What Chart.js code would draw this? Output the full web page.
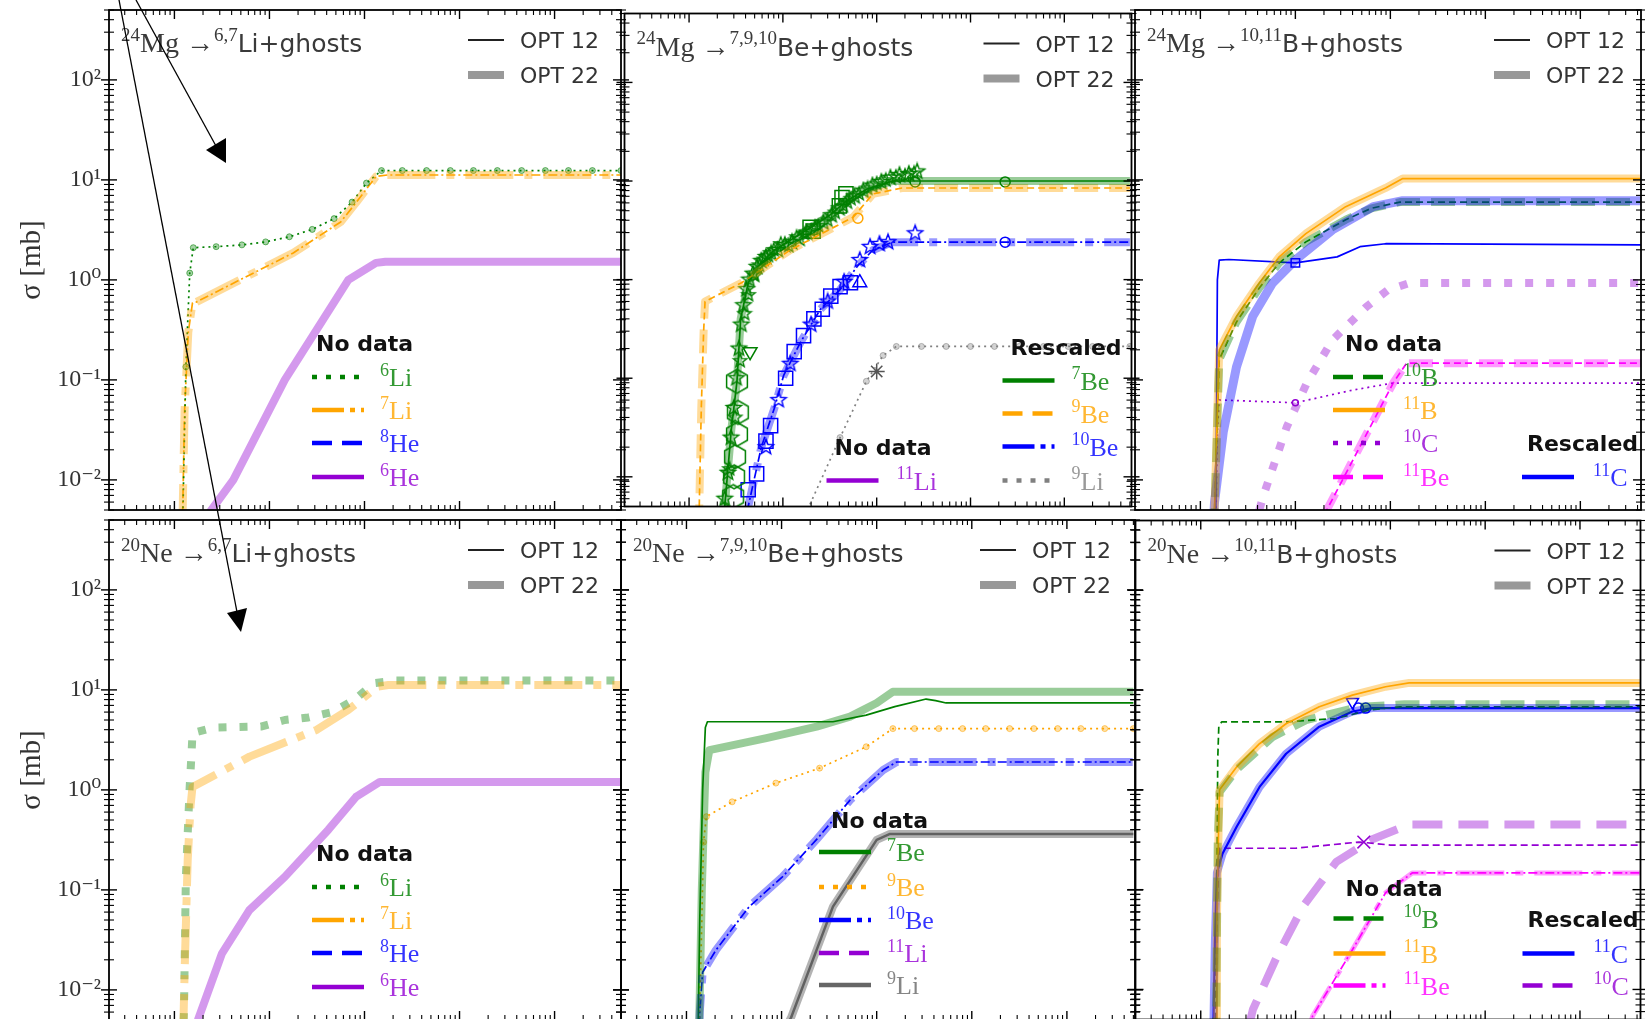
<!DOCTYPE html>
<html>
<head>
<meta charset="utf-8">
<script src="https://cdn.jsdelivr.net/npm/chart.js@4.4.0/dist/chart.umd.min.js"></script>
<style>
  body { margin: 0; background: #fff; }
  #page { position: relative; width: 1645px; height: 1019px; overflow: hidden; background: #fff; }
  canvas.panel { position: absolute; }
  #arrows { position: absolute; left: 0; top: 0; pointer-events: none; }
</style>
</head>
<body>
<div id="page">
  <canvas id="p1" class="panel"></canvas>
  <canvas id="p2" class="panel"></canvas>
  <canvas id="p3" class="panel"></canvas>
  <canvas id="p4" class="panel"></canvas>
  <canvas id="p5" class="panel"></canvas>
  <canvas id="p6" class="panel"></canvas>
  <svg id="arrows" width="1645" height="1019">
    <line x1="136" y1="0" x2="216" y2="146" stroke="#000" stroke-width="1.3"/>
    <polygon points="226,163 206,150 226,138" fill="#000"/>
    <line x1="119" y1="0" x2="237" y2="612" stroke="#000" stroke-width="1.3"/>
    <polygon points="241,632 227,613 247,608" fill="#000"/>
  </svg>
</div>
<script>
// === DATA: energy [GeV/n] and cross sections [mb] ===

// 24Mg -> 6,7Li + ghosts
const mgLi_Li6_E = [0.0121, 0.0123, 0.0132, 0.0145, 0.0158, 0.0275, 0.0513, 0.0912, 0.162, 0.282, 0.479, 0.741, 1.05, 1.51, 2.5, 4.5, 8, 14, 25, 45, 80, 140, 250, 500];
const mgLi_Li6_S = [0.003, 0.005, 0.135, 1.17, 2.1, 2.15, 2.24, 2.4, 2.7, 3.2, 4.1, 6.0, 9.3, 12.4, 12.4, 12.4, 12.4, 12.4, 12.4, 12.4, 12.4, 12.4, 12.4, 12.4];
const mgLi_Li7_E = [0.0121, 0.0128, 0.0140, 0.0155, 0.0170, 0.0562, 0.178, 0.562, 0.813, 1.32, 1.74, 500];
const mgLi_Li7_S = [0.003, 0.05, 0.3, 0.59, 0.60, 1.07, 1.86, 3.8, 5.9, 10.8, 11.2, 11.2];
const mgLi_He6_E = [0.0206, 0.0245, 0.0417, 0.145, 0.676, 1.32, 1.66, 500];
const mgLi_He6_S = [0.004, 0.005, 0.01, 0.1, 1.0, 1.48, 1.52, 1.52];

// 24Mg -> 7,9,10Be + ghosts
const mgBe_Be7_E = [0.0229, 0.024, 0.0282, 0.0324, 0.0355, 0.0427, 0.0562, 0.0813, 0.182, 0.316, 0.479, 0.794, 1.48, 500];
const mgBe_Be7_S = [0.003, 0.005, 0.03, 0.093, 0.4, 0.93, 1.41, 2.0, 3.2, 4.5, 6.3, 8.3, 10, 10];
const mgBe_Be9_E = [0.0127, 0.0135, 0.0143, 0.0148, 0.0363, 0.12, 0.562, 0.912, 1.86, 500];
const mgBe_Be9_S = [0.003, 0.05, 0.3, 0.6, 0.93, 2.0, 4.3, 7.4, 8.5, 8.5];
const mgBe_Be10_E = [0.039, 0.0427, 0.0589, 0.0813, 0.102, 0.155, 0.251, 0.407, 0.617, 0.912, 1.48, 500];
const mgBe_Be10_S = [0.003, 0.005, 0.02, 0.05, 0.107, 0.234, 0.5, 0.79, 1.35, 2.0, 2.4, 2.4];
const mgBe_Li9_E = [0.182, 0.19, 0.407, 0.776, 1.17, 1.62, 3, 5.5, 10, 18, 33, 60, 110, 200, 500];
const mgBe_Li9_S = [0.004, 0.005, 0.025, 0.093, 0.17, 0.21, 0.21, 0.21, 0.21, 0.21, 0.21, 0.21, 0.21, 0.21, 0.21];
// measurements
const mgBe_starG_E = [0.024, 0.026, 0.028, 0.030, 0.032, 0.034, 0.036, 0.038, 0.041, 0.044, 0.048, 0.053, 0.059, 0.066, 0.075, 0.088, 0.105, 0.125, 0.15, 0.18, 0.22, 0.27, 0.33, 0.40, 0.48, 0.58, 0.72, 0.9, 1.12, 1.4, 1.75, 2.2, 2.7];
const mgBe_starG_S = [0.006, 0.011, 0.025, 0.05, 0.1, 0.2, 0.35, 0.55, 0.8, 1.0, 1.15, 1.35, 1.55, 1.7, 1.85, 2.0, 2.25, 2.4, 2.6, 3.0, 3.3, 3.8, 4.5, 5.3, 6.2, 7.0, 8.0, 9.0, 9.8, 10.8, 11.5, 11.8, 12.5];
const mgBe_starG2_E = [0.027, 0.031, 0.035, 0.039, 0.043, 0.05, 0.056, 0.063, 0.07, 0.08, 0.095, 0.115, 0.14, 0.17, 0.2, 0.24, 0.3, 0.36, 0.44, 0.53, 0.65, 0.8, 1.0, 1.25, 1.6, 2.0, 2.5];
const mgBe_starG2_S = [0.012, 0.04, 0.15, 0.45, 0.7, 1.1, 1.4, 1.6, 1.75, 2.0, 2.3, 2.2, 2.7, 2.9, 3.1, 3.5, 4.0, 4.8, 5.6, 6.6, 7.4, 8.4, 9.4, 10.2, 11.0, 11.3, 12.0];
const mgBe_hexG_E = [0.0324, 0.0331, 0.0324, 0.0309, 0.0302, 0.0295];
const mgBe_hexG_S = [0.093, 0.045, 0.027, 0.016, 0.010, 0.0063];
const mgBe_sqG_E = [0.195, 0.21, 0.40, 0.427, 0.47];
const mgBe_sqG_S = [3.4, 3.1, 5.6, 6.8, 7.4];
const mgBe_triG_E = [0.0447];
const mgBe_triG_S = [0.186];
const mgBe_circG_E = [2.57, 23.4];
const mgBe_circG_S = [9.8, 9.8];
const mgBe_sqB_E = [0.0427, 0.0525, 0.066, 0.074, 0.107, 0.132, 0.166, 0.214, 0.263, 0.324, 0.407, 0.525];
const mgBe_sqB_S = [0.0074, 0.0107, 0.023, 0.033, 0.1, 0.186, 0.27, 0.4, 0.5, 0.68, 0.85, 0.93];
const mgBe_starB_E = [0.066, 0.09, 0.12, 0.2, 0.3, 0.45, 0.66, 0.85, 1.07, 1.32, 2.57];
const mgBe_starB_S = [0.02, 0.06, 0.14, 0.35, 0.6, 0.95, 1.58, 2.15, 2.3, 2.4, 2.95];
const mgBe_triB_E = [0.66];
const mgBe_triB_S = [0.93];
const mgBe_circB_E = [23.4];
const mgBe_circB_S = [2.4];
const mgBe_circO_E = [0.63];
const mgBe_circO_S = [4.2];
const mgBe_triK_E = [1.0];
const mgBe_triK_S = [0.117];

// 24Mg -> 10,11B + ghosts
const mgB_B11_E = [0.0138, 0.0141, 0.0151, 0.0158, 0.024, 0.0417, 0.0676, 0.129, 0.339, 0.891, 1.35, 500];
const mgB_B11_S = [0.003, 0.005, 0.05, 0.2, 0.43, 0.93, 1.7, 2.9, 5.4, 8.3, 10.3, 10.3];
const mgB_B10_E = [0.0138, 0.0141, 0.0151, 0.0158, 0.024, 0.0417, 0.0676, 0.129, 0.339, 0.631, 1.26, 500];
const mgB_B10_S = [0.003, 0.005, 0.04, 0.16, 0.38, 0.83, 1.48, 2.4, 4.0, 5.2, 6.0, 6.0];
const mgB_C11_E = [0.0145, 0.0148, 0.0151, 0.0158, 0.02, 0.1, 0.275, 0.479, 0.891, 500];
const mgB_C11_S = [0.003, 0.05, 1.0, 1.58, 1.6, 1.48, 1.7, 2.15, 2.3, 2.24];
const mgB_C11w_E = [0.0135, 0.0141, 0.0174, 0.024, 0.0355, 0.0575, 0.1, 0.245, 0.661, 1.35, 500];
const mgB_C11w_S = [0.003, 0.006, 0.03, 0.135, 0.43, 0.93, 1.58, 3.16, 5.4, 6.2, 6.2];
const mgB_C10_E = [0.0145, 0.0151, 0.0158, 0.1, 0.398, 1.07, 500];
const mgB_C10_S = [0.003, 0.03, 0.063, 0.059, 0.079, 0.093, 0.093];
const mgB_C10w_E = [0.0417, 0.0457, 0.0813, 0.132, 0.245, 0.562, 0.933, 1.58, 500];
const mgB_C10w_S = [0.005, 0.0068, 0.034, 0.093, 0.25, 0.54, 0.79, 0.93, 0.93];
const mgB_Be11_E = [0.2, 0.214, 1.07, 1.48, 500];
const mgB_Be11_S = [0.0045, 0.005, 0.093, 0.147, 0.147];
const mgB_markC11_E = [0.1];
const mgB_markC11_S = [1.48];
const mgB_markC10_E = [0.1];
const mgB_markC10_S = [0.059];

// 20Ne -> 6,7Li + ghosts
const neLi_Li6_E = [0.0123, 0.0126, 0.0132, 0.0145, 0.0151, 0.0155, 0.0263, 0.0813, 0.145, 0.257, 0.457, 0.776, 1.26, 2.14, 500];
const neLi_Li6_S = [0.003, 0.006, 0.135, 1.1, 2.2, 3.7, 4.2, 4.3, 5.0, 5.3, 6.0, 7.9, 11.7, 12.4, 12.4];
const neLi_Li7_E = [0.0123, 0.0129, 0.0138, 0.0148, 0.0155, 0.0617, 0.316, 0.676, 1.38, 1.78, 500];
const neLi_Li7_S = [0.003, 0.02, 0.2, 0.7, 1.07, 2.15, 4.0, 6.3, 10.8, 11.2, 11.2];
const neLi_He6_E = [0.017, 0.0178, 0.0316, 0.0617, 0.145, 0.417, 0.813, 1.45, 500];
const neLi_He6_S = [0.004, 0.0051, 0.023, 0.063, 0.135, 0.4, 0.85, 1.2, 1.2];

// 20Ne -> 7,9,10Be + ghosts
const neBe_Be7_E = [0.0132, 0.0138, 0.0148, 0.0158, 0.0166, 0.0692, 0.347, 0.776, 1.55, 3.31, 4.17, 5.37, 500];
const neBe_Be7_S = [0.003, 0.05, 1.0, 4.2, 4.8, 4.8, 4.8, 5.6, 6.8, 8.1, 7.8, 7.4, 7.4];
const neBe_Be7w_E = [0.0135, 0.0145, 0.0158, 0.0174, 0.0692, 0.234, 0.525, 1.0, 1.48, 500];
const neBe_Be7w_S = [0.003, 0.1, 1.5, 2.5, 3.3, 4.3, 5.4, 7.4, 9.6, 9.6];
const neBe_Be9_E = [0.0135, 0.0145, 0.0151, 0.0162, 0.0302, 0.0871, 0.251, 0.776, 1.48, 2.5, 4.5, 8, 14, 25, 45, 80, 140, 250, 500];
const neBe_Be9_S = [0.003, 0.05, 0.3, 0.54, 0.76, 1.17, 1.65, 2.7, 4.1, 4.1, 4.1, 4.1, 4.1, 4.1, 4.1, 4.1, 4.1, 4.1, 4.1];
const neBe_Be10_E = [0.0135, 0.0138, 0.0148, 0.0204, 0.0457, 0.102, 0.234, 0.525, 1.17, 1.62, 500];
const neBe_Be10_S = [0.003, 0.006, 0.015, 0.025, 0.068, 0.135, 0.32, 0.79, 1.58, 1.9, 1.9];
const neBe_Li9_E = [0.115, 0.126, 0.347, 1.0, 1.38, 500];
const neBe_Li9_S = [0.0045, 0.0053, 0.068, 0.316, 0.363, 0.363];

// 20Ne -> 10,11B + ghosts
const neB_B11_E = [0.0145, 0.0148, 0.0155, 0.0158, 0.024, 0.0417, 0.0794, 0.178, 0.398, 0.891, 1.58, 500];
const neB_B11_S = [0.003, 0.05, 0.5, 1.0, 1.7, 2.9, 4.6, 6.8, 8.9, 10.8, 11.8, 11.8];
const neB_B10_E = [0.0145, 0.0148, 0.0151, 0.0155, 0.0166, 0.0794, 0.269, 0.603, 1.26, 500];
const neB_B10_S = [0.003, 0.1, 2.0, 4.3, 4.8, 4.8, 5.2, 6.3, 6.8, 6.8];
const neB_B10w_E = [0.0145, 0.0151, 0.0158, 0.024, 0.0575, 0.129, 0.468, 1.41, 500];
const neB_B10w_S = [0.003, 0.3, 0.95, 1.6, 3.4, 5.0, 6.8, 7.2, 7.2];
const neB_C11_E = [0.0135, 0.0141, 0.0148, 0.017, 0.024, 0.0417, 0.0794, 0.178, 0.398, 0.646, 500];
const neB_C11_S = [0.003, 0.03, 0.147, 0.23, 0.43, 1.07, 2.3, 4.3, 6.1, 6.6, 6.6];
const neB_C10_E = [0.0141, 0.0148, 0.0155, 0.0158, 0.1, 0.468, 1.0, 500];
const neB_C10_S = [0.003, 0.05, 0.2, 0.26, 0.26, 0.30, 0.28, 0.28];
const neB_C10w_E = [0.0316, 0.0355, 0.0631, 0.12, 0.269, 0.646, 1.58, 500];
const neB_C10w_S = [0.004, 0.0063, 0.021, 0.068, 0.19, 0.32, 0.45, 0.45];
const neB_Be11_E = [0.141, 0.151, 0.398, 0.891, 1.7, 500];
const neB_Be11_S = [0.004, 0.0054, 0.025, 0.093, 0.147, 0.147];
const neB_markTri_E = [0.398];
const neB_markTri_S = [7.6];
const neB_markCirc_E = [0.46, 0.55];
const neB_markCirc_S = [6.6, 6.6];
const neB_markC10_E = [0.525];
const neB_markC10_S = [0.30];

// axis ranges
const X_MIN = 0.00205;
const X_MAX = [500, 520, 435];
const Y_MIN = 0.005, Y_MAX = 500;

// === STYLES ===
const GREEN = '#008000', ORANGE = '#ffa500', BLUE = '#0000ff', VIOLET = '#9400d3', MAGENTA = '#ff00ff', GRAY = '#808080';
const FONT_RM = '"Liberation Serif", "DejaVu Serif", serif';
const FONT_SF = '"DejaVu Sans", sans-serif';

function fade(hex, a) {
  const n = parseInt(hex.slice(1), 16);
  return `rgba(${n >> 16},${(n >> 8) & 255},${n & 255},${a})`;
}

const DOT = [2, 4], DASH = [7, 4], DASHDOT = [9, 3, 2, 3];
const W_DOT = [8, 13], W_DASH = [24, 11], W_DASHDOT = [48, 11, 8, 11];

function pts(E, S) { return E.map((e, i) => ({ x: e, y: S[i] })); }

function thin(E, S, color, dash, extra) {
  return Object.assign({
    data: pts(E, S), showLine: true, borderColor: color, backgroundColor: color,
    borderWidth: 1.7, borderDash: dash || [], pointRadius: 0, tension: 0, clip: 0,
    borderCapStyle: 'butt', borderJoinStyle: 'round'
  }, extra || {});
}
function thick(E, S, color, dash, extra) {
  return Object.assign({
    data: pts(E, S), showLine: true, borderColor: fade(color, 0.4), backgroundColor: fade(color, 0.4),
    borderWidth: 8, borderDash: dash || [], pointRadius: 0, tension: 0, clip: 0,
    borderCapStyle: 'butt', borderJoinStyle: 'round'
  }, extra || {});
}
function withDots(color) {
  return { pointRadius: (c) => (c.dataIndex < 2 ? 0 : 3), pointBackgroundColor: fade(color, 0.35), pointBorderColor: fade(color, 0.55), pointBorderWidth: 1 };
}
function marks(E, S, color, style, r, rot) {
  return {
    data: pts(E, S), showLine: false, pointStyle: style, pointRadius: r, pointRotation: rot || 0,
    pointBorderColor: color, pointBackgroundColor: 'rgba(0,0,0,0)', pointBorderWidth: 1.5, clip: 0
  };
}

// custom marker shapes
function hexImg(color, r) {
  const c = document.createElement('canvas');
  c.width = c.height = 2 * r + 4;
  const g = c.getContext('2d');
  g.strokeStyle = color; g.lineWidth = 1.5; g.beginPath();
  for (let i = 0; i < 6; i++) {
    const a = -Math.PI / 2 + i * Math.PI / 3;
    g.lineTo(r + 2 + r * Math.cos(a), r + 2 + r * Math.sin(a));
  }
  g.closePath(); g.stroke();
  return c;
}
function starImg(color, r) {
  const c = document.createElement('canvas');
  c.width = c.height = 2 * r + 4;
  const g = c.getContext('2d');
  g.strokeStyle = color; g.lineWidth = 1.4; g.beginPath();
  for (let i = 0; i < 10; i++) {
    const a = -Math.PI / 2 + i * Math.PI / 5;
    const rr = i % 2 ? r * 0.42 : r;
    g.lineTo(r + 2 + rr * Math.cos(a), r + 2 + rr * Math.sin(a));
  }
  g.closePath(); g.stroke();
  return c;
}

// === TEXT HELPERS ===
function rich(ctx, parts, x, y, size, color) {
  ctx.fillStyle = color; ctx.textBaseline = 'alphabetic'; ctx.textAlign = 'left';
  let cx = x;
  for (const [t, k] of parts) {
    let fs = size, dy = 0, fam = FONT_RM;
    if (k === 'sup') { fs = Math.round(size * 0.68); dy = -size * 0.4; }
    if (k === 'sf') { fam = FONT_SF; fs = Math.round(size * 0.9); }
    ctx.font = `${fs}px ${fam}`;
    ctx.fillText(t, cx, y + dy);
    cx += ctx.measureText(t).width;
  }
  return cx - x;
}

const SUP = { '-': '⁻', '0': '⁰', '1': '¹', '2': '²', '3': '³' };
function decadeLabel(v) {
  const l = Math.log10(v), r = Math.round(l);
  if (Math.abs(l - r) > 1e-6) return '';
  return '10' + String(r).split('').map(c => SUP[c]).join('');
}

const LEG_DASH = { solid: [], dot: [5, 9], dash: [20, 10], dashdot: [32, 6, 5, 6] };

// === PLUGIN: frame, ticks, titles and legends ===
function decorPlugin(d) {
  return {
    id: 'decor',
    afterDatasetsDraw(chart) {
      const ctx = chart.ctx, a = chart.chartArea, xs = chart.scales.x, ys = chart.scales.y;
      ctx.save();
      ctx.strokeStyle = '#000';
      const seg = (x1, y1, x2, y2) => { ctx.beginPath(); ctx.moveTo(x1, y1); ctx.lineTo(x2, y2); ctx.stroke(); };
      for (let k = -4; k <= 3; k++) {
        for (let m = 1; m <= 9; m++) {
          const v = m * Math.pow(10, k);
          ctx.lineWidth = m === 1 ? 1.4 : 1.1;
          if (v >= ys.min && v <= ys.max) {
            const py = ys.getPixelForValue(v), L = m === 1 ? 8 : 5;
            seg(a.left - L, py, a.left + L, py);
            seg(a.right - L, py, a.right + L, py);
          }
          if (v >= xs.min && v <= xs.max) {
            const px = xs.getPixelForValue(v), L = m === 1 ? 9 : 5;
            seg(px, a.top, px, a.top + L);
            seg(px, a.bottom - L, px, a.bottom);
          }
        }
      }
      ctx.lineWidth = 1.8;
      ctx.strokeRect(a.left, a.top, a.right - a.left, a.bottom - a.top);

      const X = (v) => a.left + v, Y = (v) => a.top + v;
      // panel title
      rich(ctx, d.title, X(12), Y(42), 28, '#3a3a3a');
      // OPT legend
      ctx.setLineDash([]);
      ctx.lineWidth = 2; ctx.strokeStyle = '#222';
      seg(X(359), Y(30), X(395), Y(30));
      ctx.lineWidth = 8; ctx.strokeStyle = 'rgba(0,0,0,0.4)';
      seg(X(359), Y(65), X(395), Y(65));
      ctx.fillStyle = '#333'; ctx.font = `22px ${FONT_SF}`; ctx.textAlign = 'left'; ctx.textBaseline = 'alphabetic';
      ctx.fillText('OPT 12', X(411), Y(38));
      ctx.fillText('OPT 22', X(411), Y(73));
      // grouped legends
      for (const g of d.groups) {
        ctx.fillStyle = '#111'; ctx.font = `bold 22px ${FONT_SF}`;
        ctx.fillText(g.head, X(g.tx), Y(g.ty + 8));
        for (const it of g.items) {
          ctx.setLineDash(LEG_DASH[it.style]);
          ctx.lineWidth = 4.5; ctx.strokeStyle = it.color; ctx.lineCap = 'butt';
          seg(X(g.hx), Y(it.y), X(g.hx + 52), Y(it.y));
          ctx.setLineDash([]);
          rich(ctx, [[it.sup, 'sup'], [it.el, 'rm']], X(g.lx), Y(it.y + 9), 26, fade(it.color, 0.8));
        }
      }
      ctx.restore();
    }
  };
}

// === CHART FACTORY ===
function makePanel(id, g, showY, xMax, datasets, decor) {
  const P = 10;
  const cv = document.getElementById(id);
  const left = showY ? 0 : g.left - P;
  cv.width = showY ? g.left + g.w + P : g.w + 2 * P;
  cv.height = g.h + 2 * P;
  cv.style.left = left + 'px';
  cv.style.top = (g.top - P) + 'px';
  const yAxis = {
    type: 'logarithmic', min: Y_MIN, max: Y_MAX, display: showY, position: 'left',
    grid: { display: false, drawTicks: false }, border: { display: false },
    ticks: { autoSkip: false, padding: 8, color: '#333', font: { family: FONT_RM, size: 24 }, callback: (v) => decadeLabel(v) },
    title: { display: true, text: 'σ [mb]', color: '#333', font: { family: FONT_RM, size: 29 }, padding: { top: 15, bottom: 0 } }
  };
  if (showY) {
    yAxis.afterFit = (s) => { s.width = g.left; s.paddingTop = 0; s.paddingBottom = 0; };
  }
  return new Chart(cv, {
    type: 'scatter',
    data: { datasets },
    options: {
      responsive: false, animation: false, devicePixelRatio: 1,
      layout: { padding: { left: showY ? 0 : P, right: P, top: P, bottom: P } },
      plugins: { legend: { display: false }, tooltip: { enabled: false } },
      scales: {
        x: { type: 'logarithmic', min: X_MIN, max: xMax, display: false },
        y: yAxis
      }
    },
    plugins: [decorPlugin(decor)]
  });
}

const GEOM = [
  { left: 109, top: 10, w: 512, h: 500 }, { left: 621, top: 10, w: 514, h: 500 }, { left: 1135, top: 10, w: 506, h: 500 },
  { left: 109, top: 520, w: 512, h: 500 }, { left: 621, top: 520, w: 514, h: 500 }, { left: 1135, top: 520, w: 506, h: 500 }
];

const ROWS4 = [367, 400, 433, 467];

// --- 24Mg -> 6,7Li ---
makePanel('p1', GEOM[0], true, X_MAX[0], [
  thick(mgLi_Li7_E, mgLi_Li7_S, ORANGE, W_DASHDOT),
  thick(mgLi_He6_E, mgLi_He6_S, VIOLET),
  thin(mgLi_Li6_E, mgLi_Li6_S, GREEN, DOT, withDots(GREEN)),
  thin(mgLi_Li7_E, mgLi_Li7_S, ORANGE, DASHDOT)
], {
  title: [['24', 'sup'], ['Mg', 'rm'], [' →', 'rm'], ['6,7', 'sup'], ['Li+ghosts', 'sf']],
  groups: [{ head: 'No data', tx: 207, ty: 333, hx: 203, lx: 271, items: [
    { sup: '6', el: 'Li', color: GREEN, style: 'dot', y: ROWS4[0] },
    { sup: '7', el: 'Li', color: ORANGE, style: 'dashdot', y: ROWS4[1] },
    { sup: '8', el: 'He', color: BLUE, style: 'dash', y: ROWS4[2] },
    { sup: '6', el: 'He', color: VIOLET, style: 'solid', y: ROWS4[3] }
  ] }]
});

// --- 24Mg -> 7,9,10Be ---
makePanel('p2', GEOM[1], false, X_MAX[1], [
  thick(mgBe_Be7_E, mgBe_Be7_S, GREEN),
  thick(mgBe_Be9_E, mgBe_Be9_S, ORANGE, W_DASH),
  thick(mgBe_Be10_E, mgBe_Be10_S, BLUE, W_DASHDOT),
  thin(mgBe_Li9_E, mgBe_Li9_S, GRAY, DOT, withDots(GRAY)),
  thin(mgBe_Be9_E, mgBe_Be9_S, ORANGE, DASH),
  thin(mgBe_Be10_E, mgBe_Be10_S, BLUE, DASHDOT),
  thin(mgBe_Be7_E, mgBe_Be7_S, GREEN),
  marks(mgBe_hexG_E, mgBe_hexG_S, GREEN, hexImg(GREEN, 12), 12),
  marks(mgBe_starG_E, mgBe_starG_S, GREEN, starImg(GREEN, 8), 8),
  marks(mgBe_starG2_E, mgBe_starG2_S, GREEN, starImg(GREEN, 7), 7),
  marks(mgBe_sqG_E, mgBe_sqG_S, GREEN, 'rect', 10),
  marks(mgBe_triG_E, mgBe_triG_S, GREEN, 'triangle', 8, 180),
  marks(mgBe_circG_E, mgBe_circG_S, GREEN, 'circle', 5),
  marks(mgBe_sqB_E, mgBe_sqB_S, BLUE, 'rect', 10),
  marks(mgBe_starB_E, mgBe_starB_S, BLUE, starImg(BLUE, 8), 8),
  marks(mgBe_triB_E, mgBe_triB_S, BLUE, 'triangle', 8),
  marks(mgBe_circB_E, mgBe_circB_S, BLUE, 'circle', 5),
  marks(mgBe_circO_E, mgBe_circO_S, ORANGE, 'circle', 5),
  marks(mgBe_triK_E, mgBe_triK_S, '#555', 'star', 8)
], {
  title: [['24', 'sup'], ['Mg', 'rm'], [' →', 'rm'], ['7,9,10', 'sup'], ['Be+ghosts', 'sf']],
  groups: [
    { head: 'Rescaled', tx: 386, ty: 333, hx: 378, lx: 447, items: [
      { sup: '7', el: 'Be', color: GREEN, style: 'solid', y: ROWS4[0] },
      { sup: '9', el: 'Be', color: ORANGE, style: 'dash', y: ROWS4[1] },
      { sup: '10', el: 'Be', color: BLUE, style: 'dashdot', y: ROWS4[2] },
      { sup: '9', el: 'Li', color: GRAY, style: 'dot', y: ROWS4[3] }
    ] },
    { head: 'No data', tx: 210, ty: 433, hx: 202, lx: 272, items: [
      { sup: '11', el: 'Li', color: VIOLET, style: 'solid', y: ROWS4[3] }
    ] }
  ]
});

// --- 24Mg -> 10,11B ---
makePanel('p3', GEOM[2], false, X_MAX[2], [
  thick(mgB_B11_E, mgB_B11_S, ORANGE),
  thick(mgB_C11w_E, mgB_C11w_S, BLUE, [], { borderWidth: 9 }),
  thick(mgB_B10_E, mgB_B10_S, GREEN, W_DASH),
  thick(mgB_C10w_E, mgB_C10w_S, VIOLET, W_DOT),
  thick(mgB_Be11_E, mgB_Be11_S, MAGENTA, W_DASH),
  thin(mgB_B11_E, mgB_B11_S, ORANGE),
  thin(mgB_B10_E, mgB_B10_S, GREEN, DASH),
  thin(mgB_C11_E, mgB_C11_S, BLUE),
  thin(mgB_C10_E, mgB_C10_S, VIOLET, DOT),
  thin(mgB_Be11_E, mgB_Be11_S, MAGENTA, DASH),
  marks(mgB_markC11_E, mgB_markC11_S, BLUE, 'rect', 6),
  marks(mgB_markC10_E, mgB_markC10_S, VIOLET, 'circle', 3)
], {
  title: [['24', 'sup'], ['Mg', 'rm'], [' →', 'rm'], ['10,11', 'sup'], ['B+ghosts', 'sf']],
  groups: [
    { head: 'No data', tx: 210, ty: 333, hx: 198, lx: 268, items: [
      { sup: '10', el: 'B', color: GREEN, style: 'dash', y: ROWS4[0] },
      { sup: '11', el: 'B', color: ORANGE, style: 'solid', y: ROWS4[1] },
      { sup: '10', el: 'C', color: VIOLET, style: 'dot', y: ROWS4[2] },
      { sup: '11', el: 'Be', color: MAGENTA, style: 'dash', y: ROWS4[3] }
    ] },
    { head: 'Rescaled', tx: 392, ty: 433, hx: 387, lx: 458, items: [
      { sup: '11', el: 'C', color: BLUE, style: 'solid', y: ROWS4[3] }
    ] }
  ]
});

// --- 20Ne -> 6,7Li ---
makePanel('p4', GEOM[3], true, X_MAX[0], [
  thick(neLi_He6_E, neLi_He6_S, VIOLET),
  thick(neLi_Li7_E, neLi_Li7_S, ORANGE, W_DASHDOT),
  thick(neLi_Li6_E, neLi_Li6_S, GREEN, W_DOT)
], {
  title: [['20', 'sup'], ['Ne', 'rm'], [' →', 'rm'], ['6,7', 'sup'], ['Li+ghosts', 'sf']],
  groups: [{ head: 'No data', tx: 207, ty: 333, hx: 203, lx: 271, items: [
    { sup: '6', el: 'Li', color: GREEN, style: 'dot', y: ROWS4[0] },
    { sup: '7', el: 'Li', color: ORANGE, style: 'dashdot', y: ROWS4[1] },
    { sup: '8', el: 'He', color: BLUE, style: 'dash', y: ROWS4[2] },
    { sup: '6', el: 'He', color: VIOLET, style: 'solid', y: ROWS4[3] }
  ] }]
});

// --- 20Ne -> 7,9,10Be ---
makePanel('p5', GEOM[4], false, X_MAX[1], [
  thick(neBe_Be7w_E, neBe_Be7w_S, GREEN),
  thick(neBe_Be10_E, neBe_Be10_S, BLUE, W_DASHDOT),
  thick(neBe_Li9_E, neBe_Li9_S, '#404040'),
  thin(neBe_Be7_E, neBe_Be7_S, GREEN),
  thin(neBe_Be9_E, neBe_Be9_S, ORANGE, DOT, withDots(ORANGE)),
  thin(neBe_Be10_E, neBe_Be10_S, BLUE, DASHDOT),
  thin(neBe_Li9_E, neBe_Li9_S, '#777777', [], { borderWidth: 2.5 })
], {
  title: [['20', 'sup'], ['Ne', 'rm'], [' →', 'rm'], ['7,9,10', 'sup'], ['Be+ghosts', 'sf']],
  groups: [{ head: 'No data', tx: 210, ty: 300, hx: 198, lx: 266, items: [
    { sup: '7', el: 'Be', color: GREEN, style: 'solid', y: 332 },
    { sup: '9', el: 'Be', color: ORANGE, style: 'dot', y: 367 },
    { sup: '10', el: 'Be', color: BLUE, style: 'dashdot', y: 400 },
    { sup: '11', el: 'Li', color: VIOLET, style: 'dash', y: 433 },
    { sup: '9', el: 'Li', color: '#666666', style: 'solid', y: 465 }
  ] }]
});

// --- 20Ne -> 10,11B ---
makePanel('p6', GEOM[5], false, X_MAX[2], [
  thick(neB_B11_E, neB_B11_S, ORANGE),
  thick(neB_B10w_E, neB_B10w_S, GREEN, W_DASH),
  thick(neB_C11_E, neB_C11_S, BLUE),
  thick(neB_C10w_E, neB_C10w_S, VIOLET, [30, 16]),
  thick(neB_Be11_E, neB_Be11_S, MAGENTA, W_DASHDOT, { borderWidth: 5 }),
  thin(neB_B11_E, neB_B11_S, ORANGE),
  thin(neB_B10_E, neB_B10_S, GREEN, DASH),
  thin(neB_C11_E, neB_C11_S, BLUE, [], { borderWidth: 2.2 }),
  thin(neB_C10_E, neB_C10_S, VIOLET, DASH),
  thin(neB_Be11_E, neB_Be11_S, MAGENTA, DASHDOT),
  marks(neB_markTri_E, neB_markTri_S, BLUE, 'triangle', 7, 180),
  marks(neB_markCirc_E, neB_markCirc_S, BLUE, 'circle', 5),
  marks(neB_markC10_E, neB_markC10_S, VIOLET, 'crossRot', 9)
], {
  title: [['20', 'sup'], ['Ne', 'rm'], [' →', 'rm'], ['10,11', 'sup'], ['B+ghosts', 'sf']],
  groups: [
    { head: 'No data', tx: 210, ty: 367, hx: 198, lx: 268, items: [
      { sup: '10', el: 'B', color: GREEN, style: 'dash', y: 398 },
      { sup: '11', el: 'B', color: ORANGE, style: 'solid', y: 433 },
      { sup: '11', el: 'Be', color: MAGENTA, style: 'dashdot', y: 465 }
    ] },
    { head: 'Rescaled', tx: 392, ty: 398, hx: 387, lx: 458, items: [
      { sup: '11', el: 'C', color: BLUE, style: 'solid', y: 433 },
      { sup: '10', el: 'C', color: VIOLET, style: 'dash', y: 465 }
    ] }
  ]
});
</script>
</body>
</html>
